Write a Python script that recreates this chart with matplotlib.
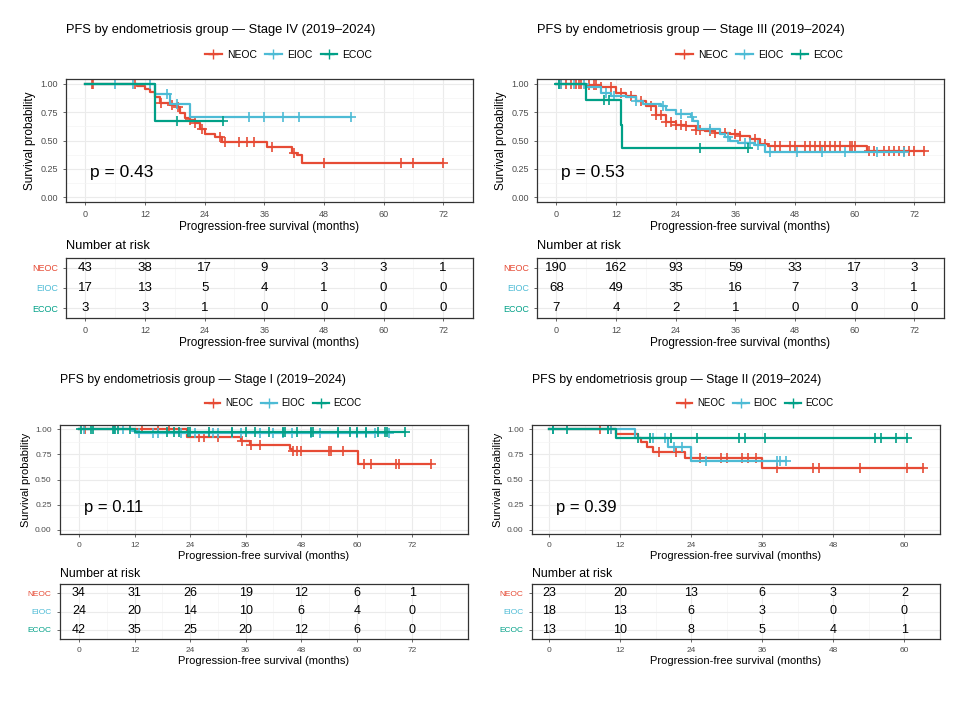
import matplotlib
matplotlib.use("agg")
import matplotlib.pyplot as plt
import numpy as np

plt.rcParams['font.family'] = ['Liberation Sans', 'DejaVu Sans']

groups = ['NEOC', 'EIOC', 'ECOC']
colors = {'NEOC': '#E64B35', 'EIOC': '#4DBBD5', 'ECOC': '#00A087'}

# Stage IV
s4_neoc_t = [10.4, 12, 13, 14, 15, 17, 18.5, 19, 20, 21, 22, 23, 24, 26, 27.5, 36.5, 41.5, 42.5, 43.5]
s4_neoc_s = [0.977, 0.95, 0.93, 0.88, 0.83, 0.81, 0.79, 0.74, 0.70, 0.68, 0.65, 0.60, 0.56, 0.53, 0.49, 0.44, 0.39, 0.37, 0.30]
s4_neoc_c = [1.3, 1.6, 10, 15.3, 17.5, 18.7, 21, 22, 23.5, 27, 28, 31, 32.5, 34, 37.5, 42, 48, 63.5, 66, 72]
s4_eioc_t = [14, 17, 21]
s4_eioc_s = [0.91, 0.82, 0.71]
s4_eioc_c = [6, 9.5, 13, 16.5, 18.5, 33, 36, 39.7, 43, 53.5]
s4_ecoc_t = [14]
s4_ecoc_s = [0.667]
s4_ecoc_c = [18.5, 27.7]

# Stage III
s3_neoc_t = [6, 9, 12, 14, 16, 18, 20, 22, 24, 26, 28, 30, 32, 35, 37, 39, 41, 42.5, 62.5]
s3_neoc_s = [0.99, 0.97, 0.92, 0.89, 0.85, 0.80, 0.72, 0.66, 0.64, 0.63, 0.59, 0.58, 0.57, 0.56, 0.54, 0.51, 0.47, 0.45, 0.41]
s3_neoc_c = [1, 2, 3, 4, 4.5, 5, 6.5, 7.5, 8, 9, 11, 13, 15, 17, 19, 20, 21, 22, 23, 24, 25, 26, 28, 29,
             31, 32, 34, 36, 37, 40, 42, 44, 45, 47, 48, 50, 51, 52, 53, 54, 55, 56, 57, 59, 59.5, 60,
             63, 64, 66, 67, 68, 69, 70, 71, 72, 74]
s3_eioc_t = [6, 9, 11, 14, 16, 17.5, 21, 22, 24, 27, 27.5, 28.5, 33, 34, 35, 36.5, 40, 42]
s3_eioc_s = [0.97, 0.92, 0.89, 0.88, 0.85, 0.82, 0.80, 0.77, 0.73, 0.71, 0.67, 0.60, 0.56, 0.53, 0.50, 0.48, 0.46, 0.40]
s3_eioc_c = [0.5, 1, 3.5, 5.5, 10, 11.5, 16, 21.5, 25, 27.2, 31, 34.5, 38, 39, 40.5, 43, 48.5, 53.5, 58, 64.5, 70]
s3_ecoc_t = [6, 13, 13.3]
s3_ecoc_s = [0.857, 0.64, 0.43]
s3_ecoc_c = [0.5, 9.5, 10.5, 29, 38.5]

# Stage I
s1_neoc_t = [23.3, 35, 37, 45.5, 46, 60.3]
s1_neoc_s = [0.925, 0.88, 0.84, 0.80, 0.78, 0.65]
s1_neoc_c = [1.3, 13.5, 17, 19.5, 26, 27, 30, 35.2, 37.2, 39, 46.2, 47, 48, 54, 54.5, 57, 61.5, 63, 68.5, 69, 76]
s1_eioc_t = [11.5, 12.5]
s1_eioc_s = [0.98, 0.96]
s1_eioc_c = [1, 7.5, 9.5, 13, 16, 17, 22, 25, 29, 30, 33, 35, 39, 42, 44, 46, 50, 52, 56, 60, 62, 64, 67]
s1_ecoc_t = [12]
s1_ecoc_s = [0.975]
s1_ecoc_c = [0.5, 2.5, 3, 7.3, 7.8, 8.5, 11, 19, 20.5, 21.5, 23.5, 24, 28, 33, 36, 38, 41, 44, 44.5, 47,
             50, 50.5, 56, 58.5, 60, 62, 64.5, 66, 66.5, 70.5]

# Stage II
s2_neoc_t = [11.3, 15, 15.5, 16.5, 17.5, 23, 36]
s2_neoc_s = [0.955, 0.91, 0.867, 0.82, 0.77, 0.71, 0.61]
s2_neoc_c = [8.5, 10.5, 18.5, 21.5, 25.5, 29, 30, 32.5, 33.5, 35, 38.5, 44.5, 45.5, 52.5, 60.5, 63.2]
s2_eioc_t = [14.5, 20, 24]
s2_eioc_s = [0.91, 0.82, 0.68]
s2_eioc_c = [0.7, 10, 10.5, 17.5, 19.5, 21, 22.5, 26.5, 38.5, 39, 40]
s2_ecoc_t = [11.3]
s2_ecoc_s = [0.907]
s2_ecoc_c = [0.7, 3, 10, 15, 17, 20.5, 25, 32, 33, 36.5, 55, 56, 58.5, 60.5]

risk_s4 = {'NEOC': [43, 38, 17, 9, 3, 3, 1], 'EIOC': [17, 13, 5, 4, 1, 0, 0], 'ECOC': [3, 3, 1, 0, 0, 0, 0]}
risk_s3 = {'NEOC': [190, 162, 93, 59, 33, 17, 3], 'EIOC': [68, 49, 35, 16, 7, 3, 1], 'ECOC': [7, 4, 2, 1, 0, 0, 0]}
risk_s1 = {'NEOC': [34, 31, 26, 19, 12, 6, 1], 'EIOC': [24, 20, 14, 10, 6, 4, 0], 'ECOC': [42, 35, 25, 20, 12, 6, 0]}
risk_s2 = {'NEOC': [23, 20, 13, 6, 3, 2], 'EIOC': [18, 13, 6, 3, 0, 0], 'ECOC': [13, 10, 8, 5, 4, 1]}

W, H = 960, 720
fig = plt.figure(figsize=(9.6, 7.2), dpi=100)


def box(x0, y0, x1, y1):
    return fig.add_axes([x0 / W, 1 - y1 / H, (x1 - x0) / W, (y1 - y0) / H])


def km(ax, t, s, c, col):
    end = max(c + t)
    xs = [0] + list(t) + [end]
    ys = [1.0] + list(s) + [s[-1] if s else 1.0]
    ax.step(xs, ys, where='post', color=col, lw=1.6)
    tt = np.array(t)
    cy = [1.0 if (tt <= v).sum() == 0 else s[(tt <= v).sum() - 1] for v in c]
    ax.plot(c, cy, ls='none', marker='+', ms=7, mew=1.2, color=col)


def style(ax, xlim, xticks, fs):
    ax.set_xlim(*xlim)
    ax.set_xticks(xticks)
    ax.set_xticks([v + 6 for v in xticks], minor=True)
    ax.grid(True, which='major', color='#ebebeb', lw=0.8)
    ax.grid(True, which='minor', color='#f4f4f4', lw=0.5)
    ax.set_axisbelow(True)
    for sp in ax.spines.values():
        sp.set_color('#333333')
        sp.set_linewidth(0.9)
    ax.tick_params(colors='#4d4d4d', labelsize=fs - 2, length=2.5, width=0.6)
    ax.tick_params(which='minor', length=0)
    ax.set_xlabel('Progression-free survival (months)', fontsize=fs, labelpad=1)


def panel(px, top, curves, risk, stage, p, xlim, xticks, small):
    x0, x1 = px
    fs = 8 if small else 8.5
    if small:
        ky0, ky1, ry0, ry1 = top + 45, top + 154, top + 204, top + 259
        ty, ly, nry = top, top + 23, top + 194
    else:
        ky0, ky1, ry0, ry1 = top + 79, top + 202, top + 258, top + 318
        ty, ly, nry = top + 30, top + 55, top + 246
    ax = box(x0, ky0, x1, ky1)
    for g, (t, s, c) in zip(groups, curves):
        km(ax, t, s, c, colors[g])
    style(ax, xlim, xticks, fs)
    ax.set_ylim(-0.04, 1.04)
    ax.set_yticks([0, 0.25, 0.5, 0.75, 1.0])
    ax.set_yticks([0.125, 0.375, 0.625, 0.875], minor=True)
    ax.set_yticklabels(['0.00', '0.25', '0.50', '0.75', '1.00'])
    ax.set_ylabel('Survival probability', fontsize=fs, labelpad=3)
    ax.text(0.06, 0.2, 'p = %s' % p, transform=ax.transAxes, fontsize=fs + 4)
    fig.text(x0 / W, 1 - ty / H, 'PFS by endometriosis group \u2014 Stage %s (2019\u20132024)' % stage,
             fontsize=fs + 0.8, va='center')
    handles = [plt.Line2D([], [], color=colors[g], marker='+', ms=7, lw=1.6) for g in groups]
    fig.legend(handles, groups, loc='center', bbox_to_anchor=((x0 + x1) / 2 / W + 0.02, 1 - ly / H), ncol=3,
               frameon=False, fontsize=fs - 1, handlelength=1.6, columnspacing=0.8, handletextpad=0.5)
    fig.text(x0 / W, 1 - nry / H, 'Number at risk', fontsize=fs + 0.8, va='center')
    rx = box(x0, ry0, x1, ry1)
    style(rx, xlim, xticks, fs)
    rx.set_ylim(0.5, 3.5)
    rx.set_yticks([3, 2, 1])
    rx.set_yticklabels(groups)
    for lab, g in zip(rx.get_yticklabels(), groups):
        lab.set_color(colors[g])
    for i, g in enumerate(groups):
        for xv, n in zip(xticks, risk[g]):
            rx.text(xv, 3 - i, str(n), ha='center', va='center', fontsize=fs + 1)


panel((66, 473), 0, [(s4_neoc_t, s4_neoc_s, s4_neoc_c), (s4_eioc_t, s4_eioc_s, s4_eioc_c), (s4_ecoc_t, s4_ecoc_s, s4_ecoc_c)],
      risk_s4, 'IV', '0.43', (-3.9, 75.1), [0, 12, 24, 36, 48, 60, 72], False)
panel((537, 944), 0, [(s3_neoc_t, s3_neoc_s, s3_neoc_c), (s3_eioc_t, s3_eioc_s, s3_eioc_c), (s3_ecoc_t, s3_ecoc_s, s3_ecoc_c)],
      risk_s3, 'III', '0.53', (-3.9, 75.1), [0, 12, 24, 36, 48, 60, 72], False)
panel((60, 468), 380, [(s1_neoc_t, s1_neoc_s, s1_neoc_c), (s1_eioc_t, s1_eioc_s, s1_eioc_c), (s1_ecoc_t, s1_ecoc_s, s1_ecoc_c)],
      risk_s1, 'I', '0.11', (-4.1, 84), [0, 12, 24, 36, 48, 60, 72], True)
panel((532, 940), 380, [(s2_neoc_t, s2_neoc_s, s2_neoc_c), (s2_eioc_t, s2_eioc_s, s2_eioc_c), (s2_ecoc_t, s2_ecoc_s, s2_ecoc_c)],
      risk_s2, 'II', '0.39', (-2.9, 63.2), [0, 12, 24, 36, 48, 60], True)

fig.savefig('out.png', dpi=100)
